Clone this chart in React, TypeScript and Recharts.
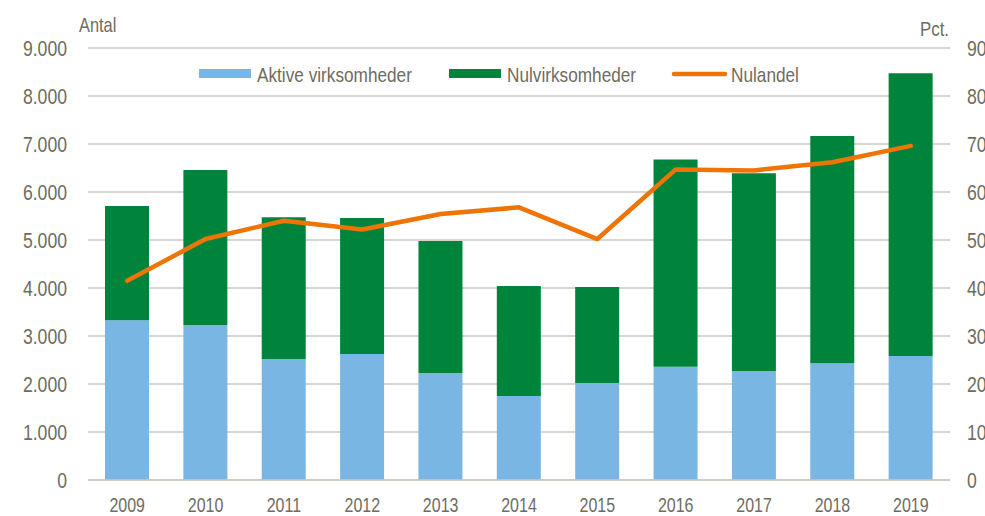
import { Bar, CartesianGrid, ComposedChart, Line, XAxis, YAxis } from "recharts";

const years = ["2009", "2010", "2011", "2012", "2013", "2014", "2015", "2016", "2017", "2018", "2019"];
const aktive = [3330, 3230, 2520, 2625, 2230, 1750, 2020, 2360, 2270, 2430, 2585];
const nulvirk = [2380, 3230, 2955, 2835, 2750, 2290, 2000, 4315, 4120, 4735, 5890];
const nulandel = [41.5, 50.2, 54.0, 52.2, 55.4, 56.8, 50.2, 64.7, 64.5, 66.2, 69.6];

const leftTicks = [0, 1000, 2000, 3000, 4000, 5000, 6000, 7000, 8000, 9000];
const rightTicks = [0, 10, 20, 30, 40, 50, 60, 70, 80, 90];

const BLUE = "#7AB6E4";
const GREEN = "#00843C";
const ORANGE = "#EE7405";
const TEXT = "#6F6C60";
const GRID = "#CAC9C0";
const FONT = "'Liberation Sans', Arial, sans-serif";
const NARROW = 0.82; // the reference uses a condensed Arial-like face

const data = years.map((year, i) => ({
  year,
  aktive: aktive[i],
  nulvirk: nulvirk[i],
  nulandel: nulandel[i],
}));

const legendItems = [
  { name: "Aktive virksomheder", color: BLUE, type: "rect", left: 199 },
  { name: "Nulvirksomheder", color: GREEN, type: "rect", left: 449 },
  { name: "Nulandel", color: ORANGE, type: "line", left: 672 },
];

const fmt = (v: number) => String(v).replace(/\B(?=(\d{3})+(?!\d))/g, ".");

function NarrowText({ x, y, anchor = "start", size, dy, children }: any) {
  return (
    <g transform={`translate(${x},${y}) scale(${NARROW},1)`}>
      <text x={0} y={0} dy={dy} textAnchor={anchor} fill={TEXT} fontSize={size} fontFamily={FONT}>
        {children}
      </text>
    </g>
  );
}

const makeTick = (anchor: string, size: number, dy: string, format?: (v: number) => string) =>
  function Tick(props: any) {
    const { x, y, payload } = props;
    return (
      <NarrowText x={x} y={y} anchor={anchor} size={size} dy={dy}>
        {format ? format(payload.value) : payload.value}
      </NarrowText>
    );
  };

const XTick = makeTick("middle", 19.5, "0.71em");
const LeftTick = makeTick("end", 21.5, "0.355em", fmt);
const RightTick = makeTick("start", 21.5, "0.355em");

export default function App() {
  return (
    <div
      style={{
        position: "absolute",
        left: 0,
        top: 0,
        width: 985,
        height: 516,
        background: "#fff",
        overflow: "hidden",
      }}
    >
      <ComposedChart
        width={985}
        height={516}
        data={data}
        margin={{ top: 48, right: 0, bottom: 0, left: 0 }}
      >
        <CartesianGrid vertical={false} stroke={GRID} strokeWidth={1.3} yAxisId="left" />
        <XAxis
          dataKey="year"
          height={36}
          tick={<XTick />}
          tickLine={false}
          axisLine={{ stroke: GRID, strokeWidth: 1.3 }}
          tickSize={0}
          tickMargin={18}
        />
        <YAxis
          yAxisId="left"
          width={88}
          domain={[0, 9000]}
          ticks={leftTicks}
          tick={<LeftTick />}
          tickLine={false}
          axisLine={false}
          tickSize={0}
          tickMargin={21}
          interval={0}
        />
        <YAxis
          yAxisId="right"
          orientation="right"
          width={35}
          domain={[0, 90]}
          ticks={rightTicks}
          tick={<RightTick />}
          tickLine={false}
          axisLine={false}
          tickSize={0}
          tickMargin={17}
          interval={0}
        />
        <Bar yAxisId="left" dataKey="aktive" stackId="a" fill={BLUE} barSize={44} isAnimationActive={false} />
        <Bar yAxisId="left" dataKey="nulvirk" stackId="a" fill={GREEN} barSize={44} isAnimationActive={false} />
        <Line
          yAxisId="right"
          dataKey="nulandel"
          stroke={ORANGE}
          strokeWidth={4.5}
          dot={false}
          activeDot={false}
          strokeLinejoin="round"
          strokeLinecap="round"
          isAnimationActive={false}
        />
      </ComposedChart>

      {/* axis titles and legend */}
      <svg
        width={985}
        height={516}
        style={{ position: "absolute", left: 0, top: 0, pointerEvents: "none" }}
      >
        <NarrowText x={79} y={31.5} size={20}>Antal</NarrowText>
        <NarrowText x={949} y={36} size={20.5} anchor="end">Pct.</NarrowText>
        {legendItems.map((item) => (
          <g key={item.name}>
            {item.type === "rect" ? (
              <rect x={item.left} y={69} width={52} height={9} fill={item.color} />
            ) : (
              <line
                x1={item.left + 2}
                x2={item.left + 53}
                y1={74}
                y2={74}
                stroke={item.color}
                strokeWidth={4.5}
                strokeLinecap="round"
              />
            )}
            <NarrowText x={item.left + (item.type === "rect" ? 58 : 59)} y={82} size={21}>
              {item.name}
            </NarrowText>
          </g>
        ))}
      </svg>
    </div>
  );
}
